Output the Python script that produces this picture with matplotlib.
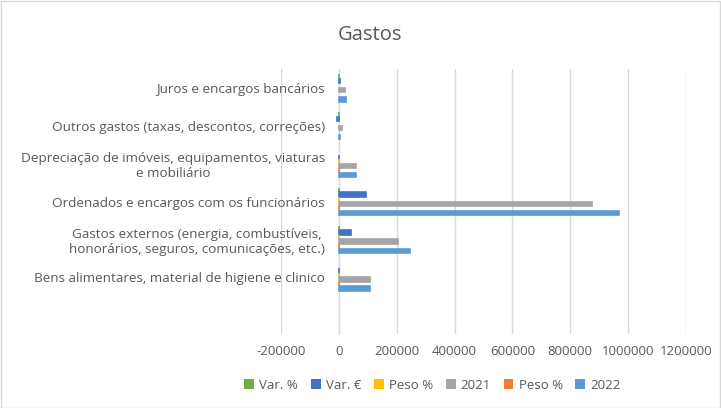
"""Gastos: horizontal grouped bars by expense category (2021 vs 2022, weights and variation)."""

import matplotlib.pyplot as plt
import numpy as np
from matplotlib.patches import Rectangle

plt.rcParams["font.family"] = ["Open Sans", "DejaVu Sans"]

TEXT = "#595959"
GRID = "#d9d9d9"

# categories bottom -> top (the first row is blank in the source sheet)
categories = [
    "",
    "Bens alimentares, material de higiene e clinico",
    "Gastos externos (energia, combustíveis,\nhonorários, seguros, comunicações, etc.)",
    "Ordenados e encargos com os funcionários",
    "Depreciação de imóveis, equipamentos, viaturas\ne mobiliário",
    "Outros gastos (taxas, descontos, correções)",
    "Juros e encargos bancários",
]

v2022 = [np.nan, 107000, 246000, 970000, 60000, 5000, 26000]
peso_2022 = [np.nan, 7.6, 17.4, 68.6, 4.2, 0.4, 1.8]
v2021 = [np.nan, 106000, 203000, 875000, 59500, 12000, 21000]
peso_2021 = [np.nan, 8.3, 15.9, 68.5, 4.7, 0.9, 1.6]
var_eur = [np.nan, 1000, 43000, 95000, 500, -7000, 5000]
var_pct = [np.nan, 0.9, 21.2, 10.9, 0.8, -58.3, 23.8]

# legend order (top bar of each group first)
series = [
    ("Var. %", var_pct, "#70ad47"),
    ("Var. €", var_eur, "#4472c4"),
    ("Peso %", peso_2021, "#ffc000"),
    ("2021", v2021, "#a5a5a5"),
    ("Peso %", peso_2022, "#ed7d31"),
    ("2022", v2022, "#5b9bd5"),
]

fig = plt.figure(figsize=(7.21, 4.08), dpi=100)
ax = fig.add_axes([0.390, 0.181, 0.561, 0.650])

y = np.arange(len(categories))
bar_h = 0.12
n = len(series)
for i, (label, vals, color) in enumerate(series):
    vals = np.asarray(vals, dtype=float)
    # tiny values still show up as a thin sliver, as in the spreadsheet
    lw = np.where(np.abs(np.nan_to_num(vals)) >= 2, 1.2, 0.0)
    ax.barh(y + ((n - 1) / 2 - i) * bar_h, vals, bar_h, color=color,
            edgecolor=color, linewidth=lw, label=label, zorder=3)

ax.set_xlim(-200000, 1200000)
ax.set_ylim(-0.5, len(categories) - 0.5)
ticks = np.arange(-200000, 1200001, 200000)
ax.set_xticks(ticks)
ax.set_xticklabels([str(t) for t in ticks], color=TEXT, fontsize=9.5)
ax.grid(axis="x", color=GRID, linewidth=1, zorder=0)

ax.spines["left"].set_position(("data", 0))
ax.spines["left"].set_color(GRID)
ax.spines["left"].set_zorder(2)
for side in ("top", "right", "bottom"):
    ax.spines[side].set_visible(False)

ax.set_yticks(y)
ax.set_yticklabels(categories, color=TEXT, fontsize=9.7, multialignment="center")
ax.tick_params(axis="y", length=0, pad=10)
ax.tick_params(axis="x", length=0, pad=8)

fig.text(0.513, 0.915, "Gastos", ha="center", va="center", fontsize=14.5, color=TEXT)

handles, labels = ax.get_legend_handles_labels()
fig.legend(handles, labels, loc="center", bbox_to_anchor=(0.6, 0.056), ncol=6,
           frameon=False, fontsize=9.5, labelcolor=TEXT, handlelength=0.75,
           handleheight=0.75, handletextpad=0.4, columnspacing=0.95)

fig.patches.append(Rectangle((0.001, 0.001), 0.997, 0.997, transform=fig.transFigure,
                             fill=False, edgecolor=GRID, linewidth=1))

fig.savefig("out.png", dpi=100)
